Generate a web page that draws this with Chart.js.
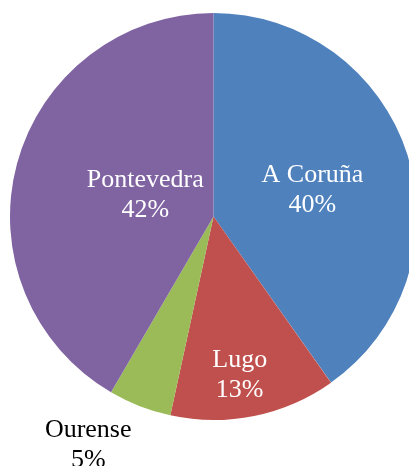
<!DOCTYPE html>
<html>
<head>
<meta charset="utf-8">
<script src="https://cdn.jsdelivr.net/npm/chart.js@4"></script>
<style>
  html, body { margin: 0; padding: 0; background: #fff; overflow: hidden; }
  #wrap { position: relative; width: 427px; height: 466px; }
</style>
</head>
<body>
<div id="wrap"><canvas id="myPieChart"></canvas></div>
<script>
const provinces = ['A Coruña', 'Lugo', 'Ourense', 'Pontevedra'];
const shares = [40.2, 13.2, 5.0, 41.6];
const sliceColors = ['#4F81BD', '#C0504D', '#9BBB59', '#8064A2'];

// where each label sits: fraction of radius and angle (deg, clockwise from top)
const labelRadius = [0.506, 0.78, 1.274, 0.355];
const labelAngle = [73.9, 170.5, 208.9, 289.1];
const labelColor = ['#fff', '#fff', '#000', '#fff'];

const pieLabels = {
    id: 'pieLabels',
    afterDatasetsDraw(chart) {
        const ctx = chart.ctx;
        const meta = chart.getDatasetMeta(0);
        const total = shares.reduce((a, b) => a + b, 0);
        ctx.save();
        ctx.font = '26px "Liberation Serif", "Times New Roman", serif';
        ctx.textAlign = 'center';
        ctx.textBaseline = 'alphabetic';
        meta.data.forEach((arc, i) => {
            const r = arc.outerRadius * labelRadius[i];
            const a = labelAngle[i] * Math.PI / 180;
            const x = arc.x + r * Math.sin(a);
            const y = arc.y - r * Math.cos(a);
            const pct = Math.round(shares[i] / total * 100) + '%';
            ctx.fillStyle = labelColor[i];
            ctx.fillText(provinces[i], x, y - 6);
            ctx.fillText(pct, x, y + 24);
        });
        ctx.restore();
    }
};

const ctx = document.getElementById('myPieChart').getContext('2d');
const myPieChart = new Chart(ctx, {
    type: 'pie',
    data: {
        labels: provinces,
        datasets: [{
            data: shares,
            backgroundColor: sliceColors,
            borderWidth: 0
        }]
    },
    options: {
        responsive: true,
        maintainAspectRatio: false,
        animation: false,
        layout: {
            padding: { top: 13, bottom: 46, left: 0, right: 0 }
        },
        plugins: {
            legend: { display: false },
            tooltip: { enabled: false }
        }
    },
    plugins: [pieLabels]
});
</script>
</body>
</html>
